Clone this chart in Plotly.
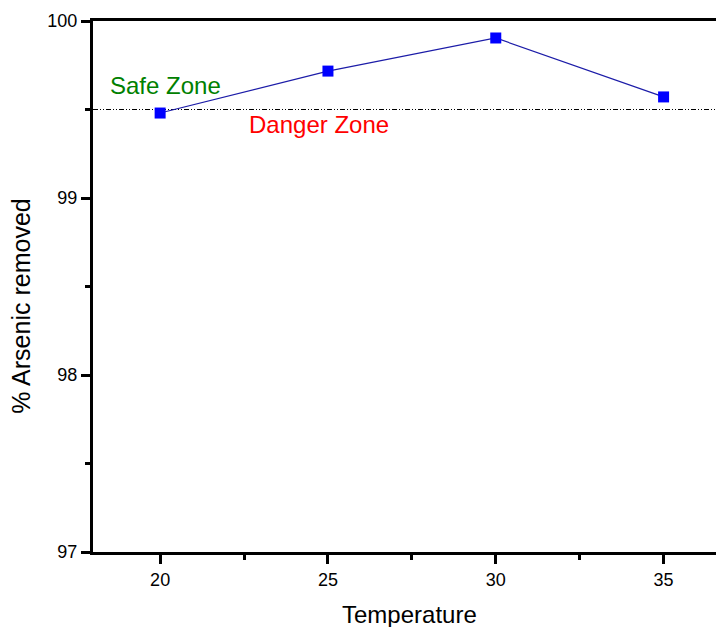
import plotly.graph_objects as go

temperature = [20, 25, 30, 35]
arsenic_removed = [99.48, 99.717, 99.904, 99.571]
threshold = 99.5
x_ticks = [20, 25, 30, 35]
y_ticks = [97, 98, 99, 100]

FONT = "Liberation Sans, Arial, sans-serif"

fig = go.Figure()
fig.add_trace(go.Scatter(
    x=temperature, y=arsenic_removed, mode="lines+markers",
    line=dict(color="#1c1ca8", width=1.2),
    marker=dict(symbol="square", size=11, color="#0000ff", line=dict(width=0)),
    showlegend=False,
))

fig.add_shape(type="line", xref="paper", x0=0, x1=1, yref="y", y0=threshold, y1=threshold,
              line=dict(color="black", width=1, dash="5px,2px,1px,2px,1px,2px"), layer="below")

fig.add_annotation(x=20.16, y=99.633, text="Safe Zone", showarrow=False,
                   font=dict(family=FONT, size=24, color="#008000"))
fig.add_annotation(x=24.74, y=99.418, text="Danger Zone", showarrow=False,
                   font=dict(family=FONT, size=24, color="#ff0000"))

# axis titles
fig.add_annotation(xref="paper", yref="paper", x=0.5008, y=0, yshift=-62,
                   xanchor="center", yanchor="middle", showarrow=False,
                   text="Temperature", font=dict(family=FONT, size=24, color="black"))
fig.add_annotation(xref="paper", yref="paper", x=0, xshift=-72, y=0.462,
                   xanchor="center", yanchor="middle", showarrow=False, textangle=-90,
                   text="% Arsenic removed", font=dict(family=FONT, size=25, color="black"))

# page body has an 8px margin, so the figure is sized/offset to compensate
fig.update_layout(
    width=716, height=625,
    margin=dict(l=85, r=0, t=13, b=81, autoexpand=False),
    plot_bgcolor="white", paper_bgcolor="white",
    font=dict(family=FONT, size=18, color="black"),
)
fig.update_xaxes(
    range=[18, 36.8], tickvals=x_ticks, ticktext=[str(v) for v in x_ticks],
    showgrid=False, zeroline=False, automargin=False,
    showline=True, linecolor="black", linewidth=3, mirror=True,
    ticks="outside", ticklen=9, tickwidth=3, tickcolor="black",
    minor=dict(ticks="outside", ticklen=5, tickwidth=3, tickcolor="black", dtick=2.5, tick0=20),
    tickfont=dict(size=18),
)
fig.update_yaxes(
    range=[97, 100], tickvals=y_ticks, ticktext=[str(v) for v in y_ticks],
    showgrid=False, zeroline=False, automargin=False,
    showline=True, linecolor="black", linewidth=3, mirror=False,
    ticks="outside", ticklen=9, tickwidth=3, tickcolor="black",
    minor=dict(ticks="outside", ticklen=5, tickwidth=3, tickcolor="black", dtick=0.5, tick0=97),
    tickfont=dict(size=18),
)

fig.write_html("out.html")
